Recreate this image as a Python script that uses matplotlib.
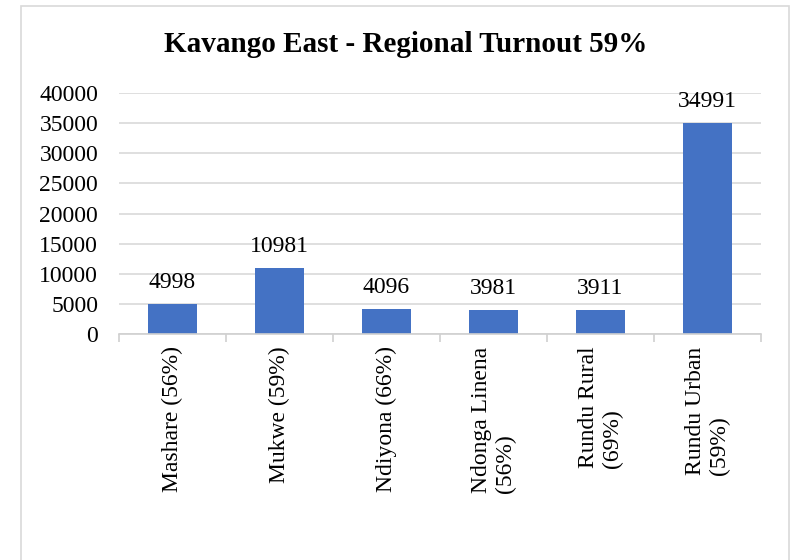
import matplotlib
matplotlib.use("Agg")
import matplotlib.pyplot as plt
from matplotlib.patches import Rectangle
import numpy as np

categories = ["Mashare (56%)", "Mukwe (59%)", "Ndiyona (66%)",
              "Ndonga Linena\n(56%)", "Rundu Rural\n(69%)", "Rundu Urban\n(59%)"]
values = [4998, 10981, 4096, 3981, 3911, 34991]
yticks = [0, 5000, 10000, 15000, 20000, 25000, 30000, 35000, 40000]
title = "Kavango East - Regional Turnout 59%"

plt.rcParams['font.family'] = ['Liberation Serif', 'DejaVu Serif']

fig = plt.figure(figsize=(7.92, 5.6), dpi=100)
W, H = 792, 560
# outer frame
fig.patches.append(Rectangle((21 / W, -0.05), (789 - 21) / W, 1.05 - 6 / H,
                             transform=fig.transFigure, fill=False,
                             edgecolor='#d9d9d9', linewidth=1.2))

ax = fig.add_axes([119 / W, 1 - 334 / H, (761 - 119) / W, (334 - 93) / H])
x = np.arange(len(categories))
bars = ax.bar(x, values, width=0.46, color='#4472C4', zorder=3)
ax.set_xlim(-0.5, len(categories) - 0.5)
ax.set_ylim(0, 40000)
ax.set_yticks(yticks)
ax.set_yticklabels([str(t) for t in yticks], fontsize=17)
ax.tick_params(axis='y', length=0, pad=15)
ax.yaxis.grid(True, color='#d9d9d9', linewidth=1.2, zorder=0)
ax.set_axisbelow(True)
for s in ['top', 'right', 'left']:
    ax.spines[s].set_visible(False)
ax.spines['bottom'].set_color('#d0d0d0')
ax.spines['bottom'].set_linewidth(1.2)
ax.spines['bottom'].set_zorder(4)

ax.set_xticks(x)
ax.set_xticklabels(categories, rotation=90, fontsize=17, ha='center', va='top',
                   multialignment='left')
ax.tick_params(axis='x', which='major', length=0, pad=9)
ax.set_xticks(np.arange(-0.5, len(categories)), minor=True)
ax.tick_params(axis='x', which='minor', length=6, color='#d0d0d0', width=1.2)

for xi, v in zip(x, values):
    ax.annotate(str(v), (xi, v), xytext=(0, 8), textcoords='offset points',
                ha='center', va='bottom', fontsize=17)

fig.text(406 / W, 1 - 45 / H, title, ha='center', va='center',
         fontsize=21, fontweight='bold')

fig.savefig("out.png", dpi=100)
